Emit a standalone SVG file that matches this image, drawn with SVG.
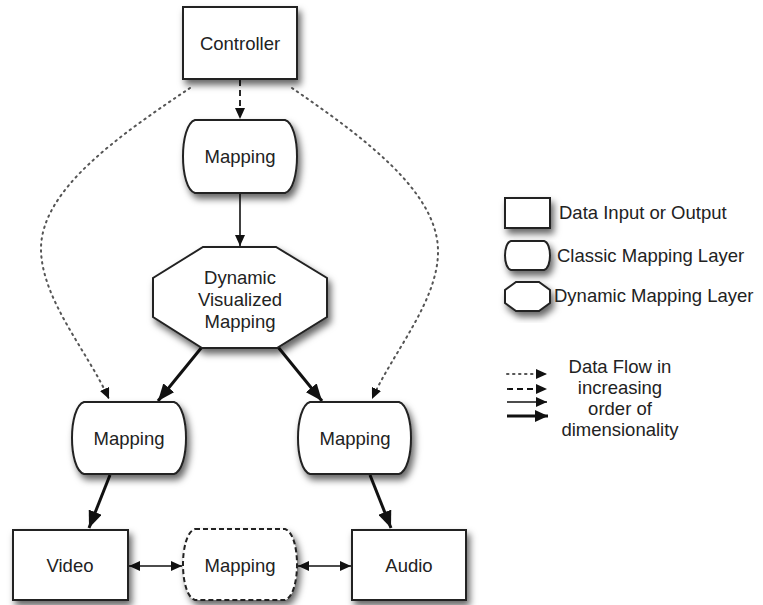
<svg xmlns="http://www.w3.org/2000/svg" width="763" height="605" viewBox="0 0 763 605">
<style>
  .node { fill: #fff; stroke: #222; stroke-width: 2; filter: url(#sh); }
  .lbl { font-family: "Liberation Sans", Arial, sans-serif; font-size: 18.5px; fill: #222; text-anchor: middle; }
  .leg { font-family: "Liberation Sans", Arial, sans-serif; font-size: 18.5px; fill: #222; }
  .c { fill: none; stroke: #111; }
  .dot { stroke-width: 2; stroke-dasharray: 1.5 4.5; stroke-linecap: round; stroke: #555; }
  .dash { stroke-width: 1.8; stroke-dasharray: 6 4; }
  .thin { stroke-width: 1.6; }
  .thick { stroke-width: 3; }
</style>
<defs>
  <filter id="sh" x="-20%" y="-20%" width="150%" height="160%">
    <feDropShadow dx="3" dy="5" stdDeviation="3.5" flood-color="#000" flood-opacity="0.6"/>
  </filter>
  <marker id="as" markerUnits="userSpaceOnUse" markerWidth="11" markerHeight="10" refX="11" refY="5" orient="auto-start-reverse">
    <path d="M0,0 L11,5 L0,10 z" fill="#111"/>
  </marker>
  <marker id="am" markerUnits="userSpaceOnUse" markerWidth="13" markerHeight="12" refX="13" refY="6" orient="auto">
    <path d="M0,0 L13,6 L0,12 z" fill="#111"/>
  </marker>
  <marker id="al" markerUnits="userSpaceOnUse" markerWidth="17" markerHeight="14" refX="17" refY="7" orient="auto">
    <path d="M0,0 L17,7 L0,14 z" fill="#111"/>
  </marker>
</defs>

<g id="connectors">
  <path class="c dash" d="M240,80 L240,119" marker-end="url(#as)"/>
  <path class="c thin" d="M240,194 L240,246" marker-end="url(#as)"/>
  <path class="c thick" d="M202,347 L158,401" marker-end="url(#al)"/>
  <path class="c thick" d="M278,347 L322,401" marker-end="url(#al)"/>
  <path class="c dot" d="M190,88 C120,135 40,190 41,250 C42,300 88,352 109,399" marker-end="url(#as)"/>
  <path class="c dot" d="M292,88 C360,135 437,190 438,250 C439,300 393,352 372,399" marker-end="url(#as)"/>
  <path class="c thick" d="M110,475 L89,528" marker-end="url(#al)"/>
  <path class="c thick" d="M370,475 L391,528" marker-end="url(#al)"/>
  <path class="c thin" d="M129,566 L182,566" marker-start="url(#as)" marker-end="url(#as)"/>
  <path class="c thin" d="M298,566 L351,566" marker-start="url(#as)" marker-end="url(#as)"/>
</g>

<g id="controller">
  <rect class="node" x="183" y="7" width="114" height="72"/>
  <text class="lbl" x="240" y="50">Controller</text>
</g>
<g id="mapping-top">
  <path class="node" d="M195,120 H285 C301,125 301,188 285,193 H195 C179,188 179,125 195,120 Z"/>
  <text class="lbl" x="240" y="163">Mapping</text>
</g>
<g id="dynamic">
  <polygon class="node" points="203,247 276,247 327,278 327,317 277,348 202,348 153,317 153,278"/>
  <text class="lbl" x="240" y="284">Dynamic</text>
  <text class="lbl" x="240" y="306">Visualized</text>
  <text class="lbl" x="240" y="328">Mapping</text>
</g>
<g id="mapping-left">
  <path class="node" d="M84,402 H174 C190,407 190,469 174,474 H84 C68,469 68,407 84,402 Z"/>
  <text class="lbl" x="129" y="445">Mapping</text>
</g>
<g id="mapping-right">
  <path class="node" d="M310,402 H399 C415,407 415,469 399,474 H310 C294,469 294,407 310,402 Z"/>
  <text class="lbl" x="355" y="445">Mapping</text>
</g>
<g id="video">
  <rect class="node" x="13" y="530" width="115" height="70"/>
  <text class="lbl" x="70" y="572">Video</text>
</g>
<g id="mapping-bottom">
  <path class="node" stroke-dasharray="5 3" d="M195,529 H285 C301,534 301,595 285,600 H195 C179,595 179,534 195,529 Z"/>
  <text class="lbl" x="240" y="572">Mapping</text>
</g>
<g id="audio">
  <rect class="node" x="352" y="530" width="114" height="70"/>
  <text class="lbl" x="409" y="572">Audio</text>
</g>

<g id="legend">
  <rect class="node" x="505" y="198" width="45" height="30"/>
  <text class="leg" x="559" y="219">Data Input or Output</text>
  <path class="node" d="M511,241 H544 C552,243 552,268 544,270 H511 C503,268 503,243 511,241 Z"/>
  <text class="leg" x="557" y="262">Classic Mapping Layer</text>
  <polygon class="node" points="516,282 539,282 550,290 550,303 539,311 516,311 505,303 505,290"/>
  <text class="leg" x="554" y="302">Dynamic Mapping Layer</text>
  <path class="c dot" d="M507,374 L547,374" marker-end="url(#as)"/>
  <path class="c dash" d="M507,389 L547,389" marker-end="url(#as)"/>
  <path class="c thin" d="M507,402 L547,402" marker-end="url(#as)"/>
  <path class="c thick" d="M507,416 L548,416" marker-end="url(#am)"/>
  <text class="lbl" x="620" y="373">Data Flow in</text>
  <text class="lbl" x="620" y="394">increasing</text>
  <text class="lbl" x="620" y="415">order of</text>
  <text class="lbl" x="620" y="436">dimensionality</text>
</g>
</svg>
